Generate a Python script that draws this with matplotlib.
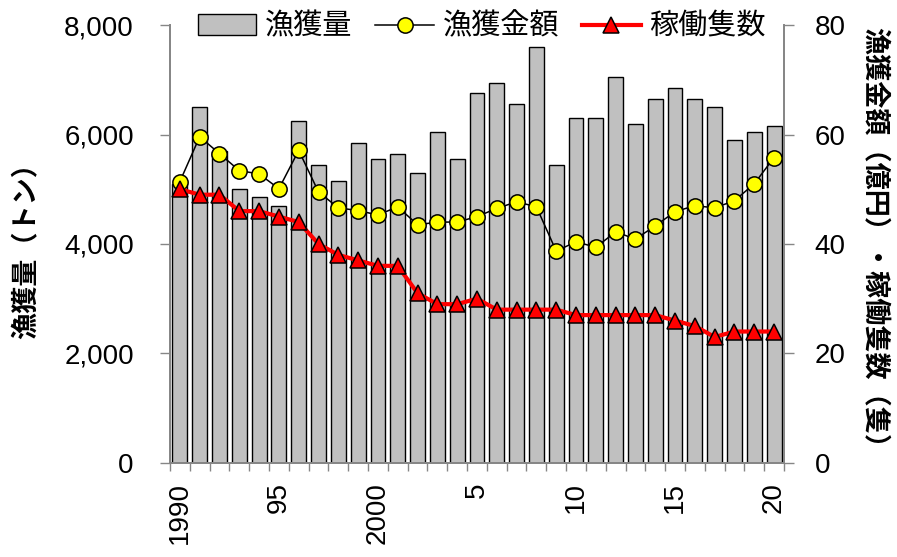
#!/usr/bin/env python3
"""
Fish catch, catch value and active boats, 1990-2020.
"""

import numpy as np
import matplotlib
matplotlib.use('Agg')
import matplotlib.pyplot as plt
from matplotlib.ticker import StrMethodFormatter, FixedLocator

plt.rcParams['font.family'] = ['Liberation Sans', 'Noto Sans CJK JP']

# data
years = list(range(1990, 2021))
catch_t = [5100, 6500, 5700, 5000, 4850, 4700, 6250, 5450, 5150, 5850,
           5550, 5650, 5300, 6050, 5550, 6750, 6950, 6550, 7600, 5450,
           6300, 6300, 7050, 6200, 6650, 6850, 6650, 6500, 5900, 6050,
           6150]
value_oku = [51.4, 59.6, 56.5, 53.4, 52.8, 50.1, 57.1, 49.5, 46.6, 46.1,
             45.3, 46.8, 43.5, 44.0, 44.0, 45.0, 46.5, 47.7, 46.8, 38.7,
             40.4, 39.4, 42.2, 40.9, 43.3, 45.9, 47.0, 46.6, 47.9, 51.0,
             55.8]
boats = [50, 49, 49, 46, 46, 45, 44, 40, 38, 37,
         36, 36, 31, 29, 29, 30, 28, 28, 28, 28,
         27, 27, 27, 27, 27, 26, 25, 23, 24, 24,
         24]
tick_pos = [0, 5, 10, 15, 20, 25, 30]
tick_labels = ['1990', '95', '2000', '5', '10', '15', '20']

legend_names = ['漁獲量', '漁獲金額', '稼働隻数']
left_label = '漁獲量（トン）'
right_label = '漁獲金額（億円）・稼働隻数（隻）'


def main():
    fig = plt.figure(figsize=(8.97, 5.57), dpi=100)
    ax = fig.add_axes([0.1895, 0.169, 0.6845, 0.786])
    ax2 = ax.twinx()

    x = np.arange(len(years))
    gray = '#868686'

    bars = ax.bar(x, catch_t, width=0.75, color='#c0c0c0',
                  edgecolor='black', linewidth=1.0, label=legend_names[0])

    line1, = ax2.plot(x, value_oku, color='black', linewidth=1.1,
                      marker='o', markersize=11, markerfacecolor='#ffff00',
                      markeredgecolor='black', markeredgewidth=1.1,
                      label=legend_names[1], zorder=3)
    line2, = ax2.plot(x, boats, color='#ff0000', linewidth=3,
                      marker='^', markersize=12, markerfacecolor='#ff0000',
                      markeredgecolor='black', markeredgewidth=1.1,
                      label=legend_names[2], zorder=4)

    ax.set_xlim(-0.5, len(years) - 0.5)
    ax.set_ylim(0, 8000)
    ax.set_yticks([0, 2000, 4000, 6000, 8000])
    ax.yaxis.set_major_formatter(StrMethodFormatter('{x:,.0f}'))
    ax2.set_ylim(0, 80)
    ax2.set_yticks([0, 20, 40, 60, 80])

    ax.set_xticks(tick_pos)
    ax.set_xticklabels(tick_labels, rotation=90, va='top', ha='center')
    ax.xaxis.set_minor_locator(FixedLocator(np.arange(-0.5, len(years), 1.0)))
    ax.tick_params(axis='x', which='major', length=0, pad=14, labelsize=20)
    ax.tick_params(axis='x', which='minor', length=6, width=1, color=gray)
    ax.tick_params(axis='y', length=7, width=1, color=gray, pad=19,
                   labelsize=20)
    ax2.tick_params(axis='y', length=7, width=1, color=gray, pad=15,
                    labelsize=20)

    for a in (ax, ax2):
        a.spines['top'].set_visible(False)
        for s in ('left', 'right', 'bottom'):
            a.spines[s].set_color(gray)
            a.spines[s].set_linewidth(1.3)

    ax.set_ylabel(left_label, fontsize=19.5, fontweight='bold',
                  family=['Noto Sans CJK JP'], va='center')
    ax.yaxis.set_label_coords(-0.233, 0.5)
    ax2.set_ylabel(right_label, fontsize=19.5, fontweight='bold',
                   family=['Noto Sans CJK JP'], rotation=270, va='center')
    ax2.yaxis.set_label_coords(1.146, 0.5)

    ax2.legend([bars, line1, line2], legend_names, loc='center',
               bbox_to_anchor=(0.537, 0.952), bbox_transform=fig.transFigure,
               ncol=3, frameon=False, handlelength=2.0, handletextpad=0.3,
               columnspacing=0.8, borderpad=0.1,
               prop={'family': ['Noto Sans CJK JP'], 'size': 21})

    fig.savefig('out.png', dpi=100)


if __name__ == '__main__':
    main()
